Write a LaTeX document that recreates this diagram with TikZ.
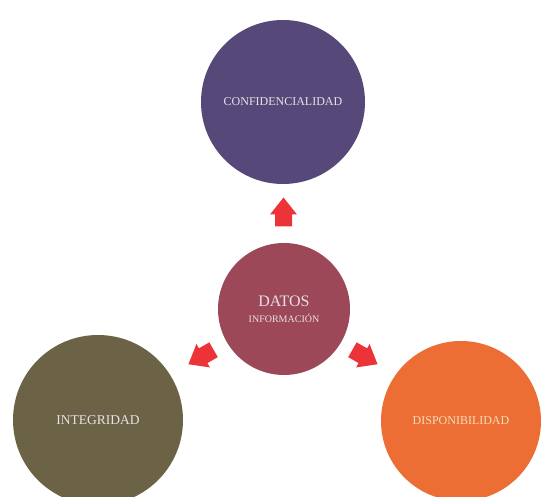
\documentclass[tikz,border=0pt]{standalone}
\usepackage{fontspec}
\setmainfont{Liberation Serif}
\definecolor{cpurple}{HTML}{56497A}
\definecolor{cmaroon}{HTML}{9C4858}
\definecolor{colive}{HTML}{6C6346}
\definecolor{corange}{HTML}{EC6E35}
\definecolor{carrow}{HTML}{EC3438}
\definecolor{ctext}{HTML}{E8E0E8}
\definecolor{ctextor}{HTML}{F7DDB8}
\tikzset{
  bubble/.style={circle, inner sep=0pt, text=ctext, align=center},
  blockarrow/.pic={
    \fill[carrow] (-14.5,-8.5) -- (-2.5,-8.5) -- (-2.5,-13.5) -- (14.5,0)
      -- (-2.5,13.5) -- (-2.5,8.5) -- (-14.5,8.5) -- cycle;
  }
}
\begin{document}
\begin{tikzpicture}[x=1pt,y=1pt]
\useasboundingbox (0,0) rectangle (541,497);
\clip (0,0) rectangle (541,497);
\fill[white] (0,0) rectangle (541,497);
\node[bubble, fill=cpurple, minimum size=164pt, font=\fontsize{12}{14}\selectfont] (conf) at (283,395) {CONFIDENCIALIDAD};
\node[bubble, fill=cmaroon, minimum size=132pt] (datos) at (284,188)
  {{\fontsize{16}{18}\selectfont DATOS}\\[4pt]{\fontsize{10}{12}\selectfont INFORMACIÓN}};
\node[bubble, fill=colive, minimum size=170pt, font=\fontsize{13.5}{15}\selectfont] (integ) at (98,77) {INTEGRIDAD};
\node[bubble, fill=corange, minimum size=160pt, text=ctextor, font=\fontsize{12}{14}\selectfont] (disp) at (461,76) {DISPONIBILIDAD};
\coordinate (aup) at (283.5,285);
\coordinate (aleft) at (201,140);
\coordinate (aright) at (365,140);
\pic[rotate=90] at (aup) {blockarrow};
\pic[rotate=210] at (aleft) {blockarrow};
\pic[rotate=-30] at (aright) {blockarrow};
\end{tikzpicture}
\end{document}
